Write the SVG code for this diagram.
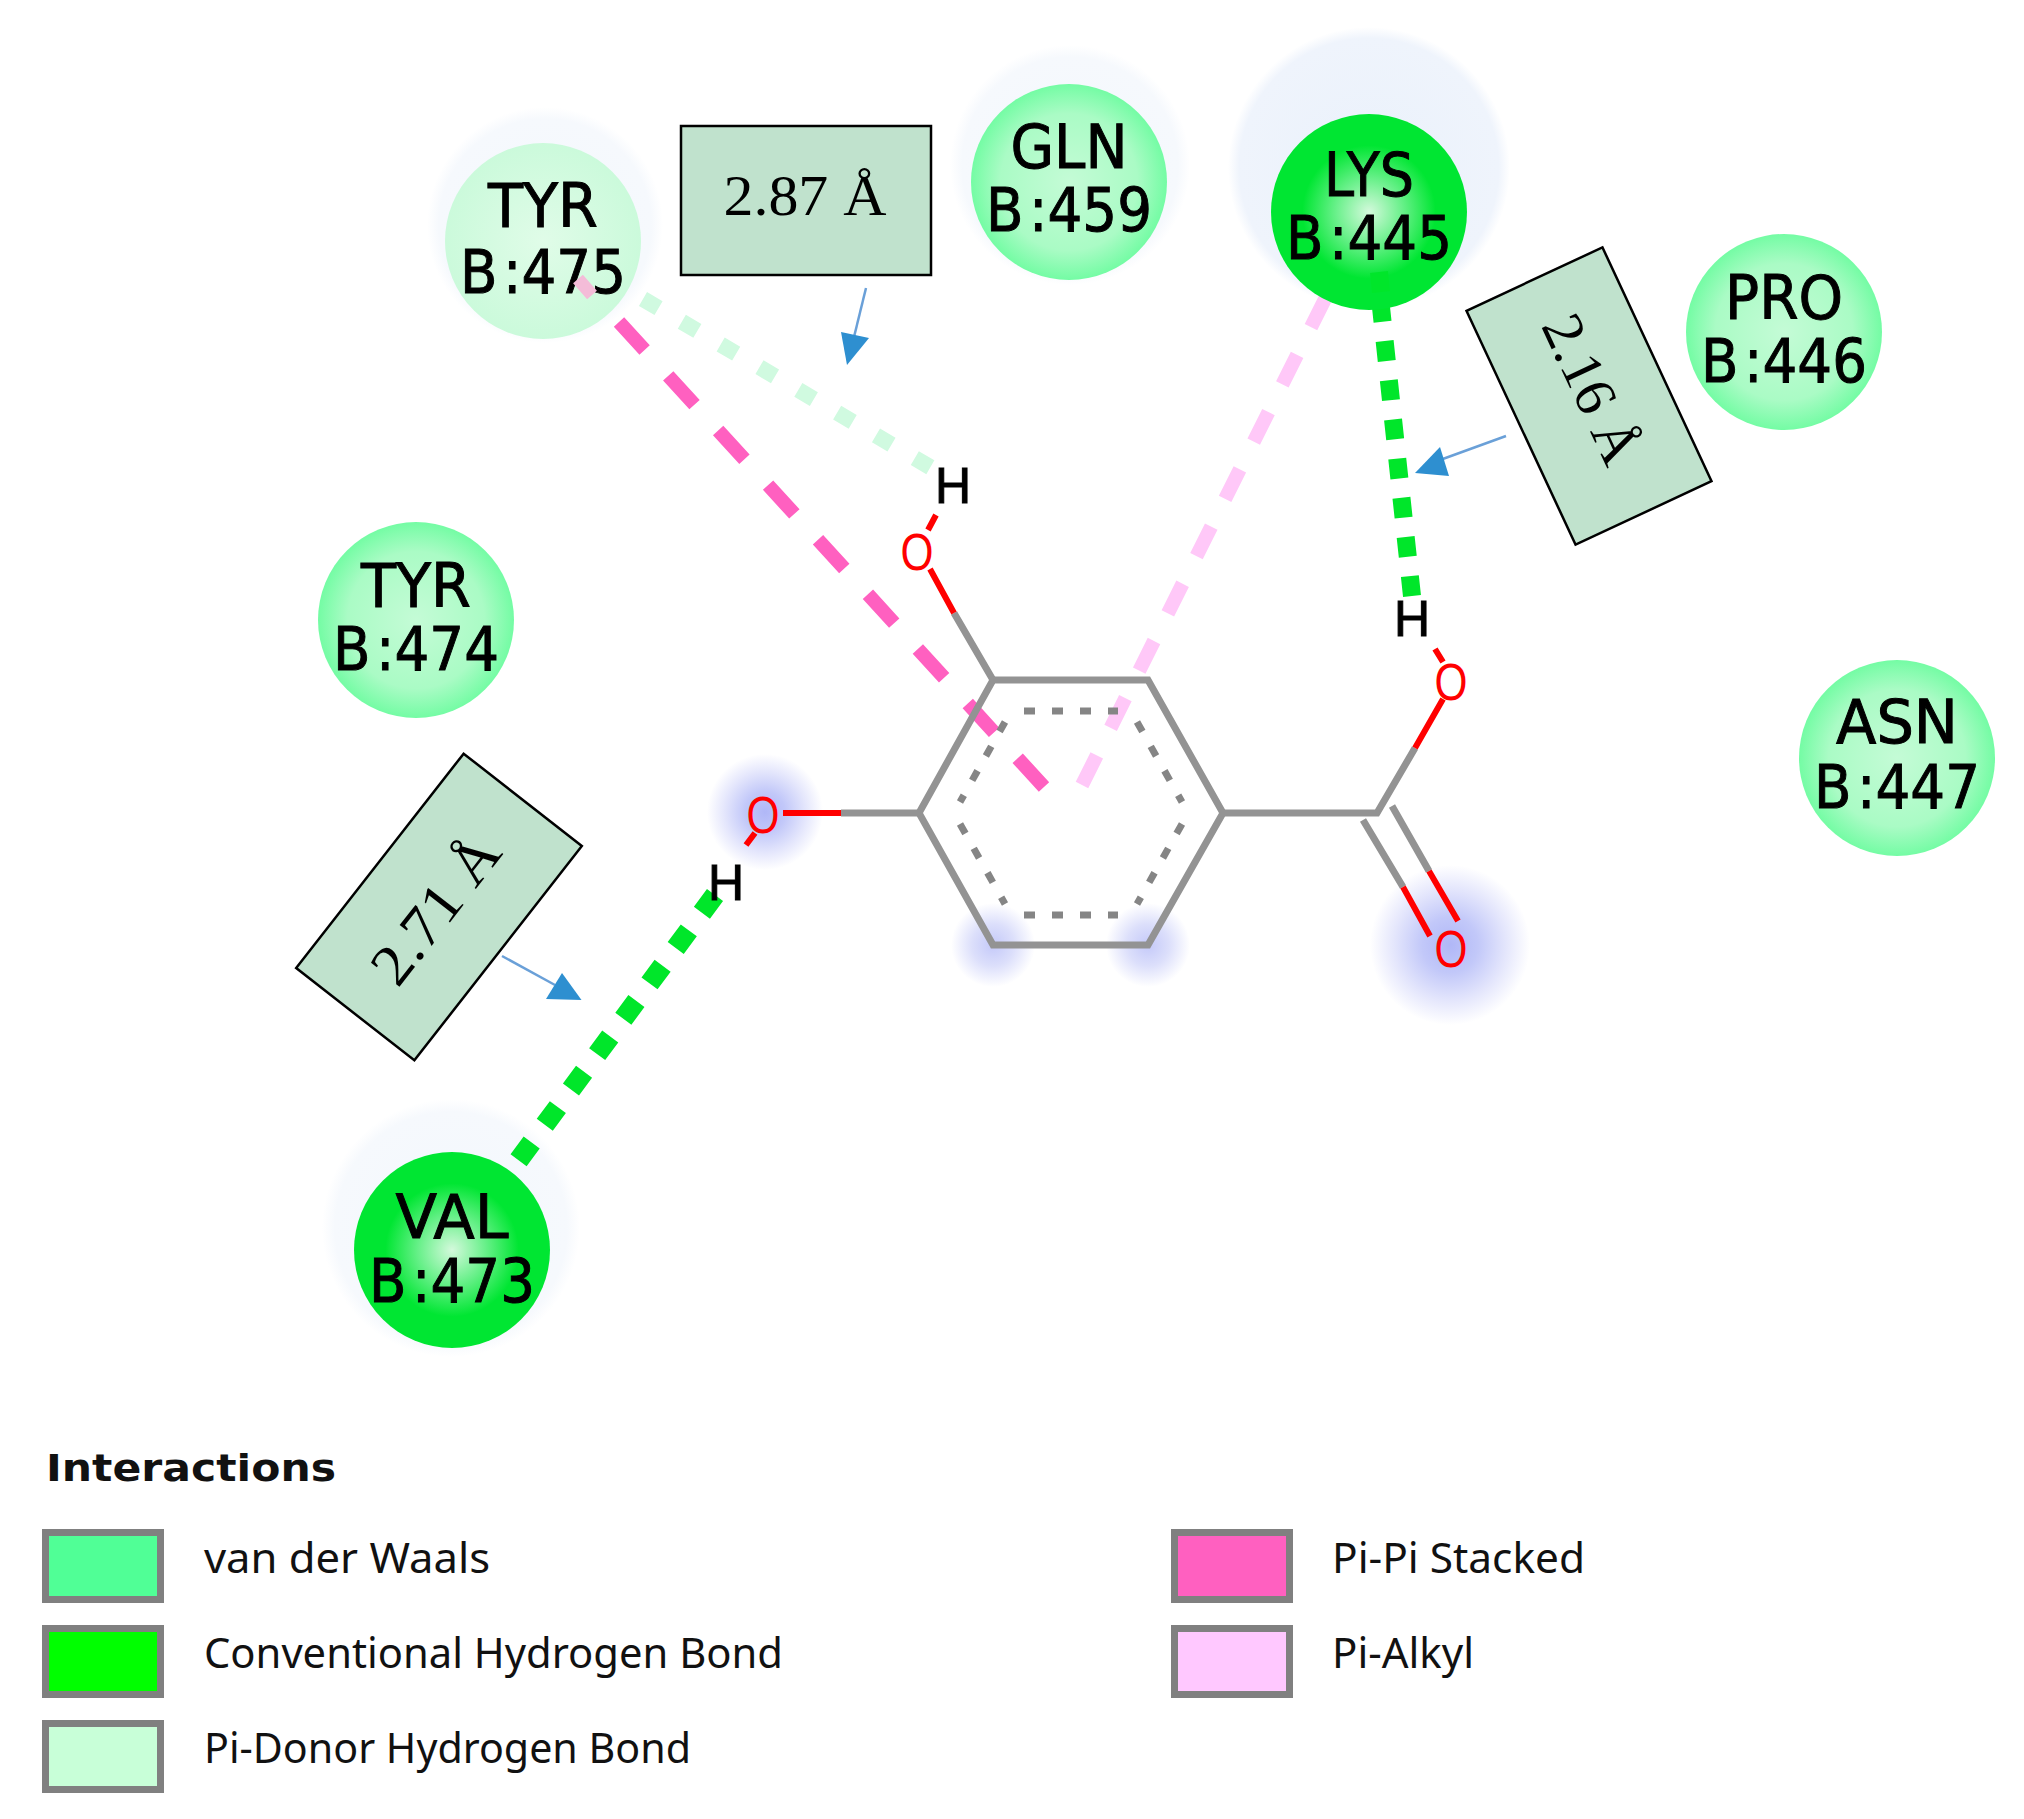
<svg xmlns="http://www.w3.org/2000/svg" width="2024" height="1819" viewBox="0 0 2024 1819">
<style>
.res{font-family:"DejaVu Sans","Liberation Sans",sans-serif;font-size:60px;fill:#000;stroke:#000;stroke-width:1;text-anchor:middle}
.dist{font-family:"Liberation Serif","Times New Roman",serif;font-size:58px;fill:#000;text-anchor:middle}
.box{fill:#c0e2cd;stroke:#000;stroke-width:2.500}
.atomH{font-family:"Liberation Sans",sans-serif;font-size:50px;fill:#000;text-anchor:middle;stroke:#000;stroke-width:1}
.atomO{font-family:"Liberation Sans",sans-serif;font-size:52px;fill:#f00;text-anchor:middle}
.bond{fill:none;stroke:#939393;stroke-width:7}
.red{fill:none;stroke:#f00;stroke-width:6}
.arom{fill:none;stroke:#858585;stroke-width:7;stroke-dasharray:11 17}
.lbl{font-family:"Noto Sans",sans-serif;font-size:42px;fill:#111}
.sw{stroke:#808080;stroke-width:7}
.arr{fill:none;stroke:#6aa0d8;stroke-width:2.500}
.head{fill:#2e8fd0}
</style>
<defs>
<radialGradient id="gv"><stop offset="0" stop-color="#c4fbd6"/><stop offset="0.7" stop-color="#aafbc5"/><stop offset="1" stop-color="#74fca4"/></radialGradient>
<radialGradient id="gc"><stop offset="0" stop-color="#d4f9dc"/><stop offset="0.35" stop-color="#66f088"/><stop offset="0.68" stop-color="#00e632"/><stop offset="1" stop-color="#00e632"/></radialGradient>
<radialGradient id="gp"><stop offset="0" stop-color="#e0fce8"/><stop offset="1" stop-color="#cbfadb"/></radialGradient>
<radialGradient id="ghb"><stop offset="0" stop-color="#eaf1fb"/><stop offset="0.92" stop-color="#eff4fc"/><stop offset="1" stop-color="#ffffff"/></radialGradient>
<radialGradient id="ghalo"><stop offset="0" stop-color="#f3f7fd"/><stop offset="0.9" stop-color="#f6f9fd"/><stop offset="1" stop-color="#ffffff"/></radialGradient>
<radialGradient id="gb"><stop offset="0" stop-color="#b0b7f7"/><stop offset="0.35" stop-color="#c2c8f9"/><stop offset="0.7" stop-color="#e4e6fc"/><stop offset="1" stop-color="#ffffff"/></radialGradient>
<radialGradient id="gr"><stop offset="0" stop-color="#c4c9f9"/><stop offset="0.5" stop-color="#dcdffb"/><stop offset="1" stop-color="#ffffff"/></radialGradient>
</defs>
<rect width="2024" height="1819" fill="#fff"/>
<g id="glows">
<circle cx="765" cy="812" r="58" fill="url(#gb)"/>
<circle cx="1450" cy="945" r="80" fill="url(#gb)"/>
<circle cx="993" cy="945" r="42" fill="url(#gr)"/>
<circle cx="1148" cy="945" r="42" fill="url(#gr)"/>
</g>
<g id="halos">
<circle cx="545" cy="225" r="118" fill="url(#ghalo)"/>
<circle cx="1070" cy="165" r="120" fill="url(#ghalo)"/>
<circle cx="1369" cy="168" r="141" fill="url(#ghb)"/>
<circle cx="451" cy="1228" r="129" fill="url(#ghalo)"/>
</g>
<g id="connectors" fill="none">
<path d="M1082 785L1330 289" stroke="#ffc8f8" stroke-width="14" stroke-dasharray="33 31"/>
<path d="M1044 787L619 322" stroke="#ff60c0" stroke-width="14" stroke-dasharray="39 35"/>
<path d="M643 299L935 470" stroke="#d0fae0" stroke-width="16" stroke-dasharray="18 27"/>
<path d="M1412 596L1377 270" stroke="#00e62a" stroke-width="18" stroke-dasharray="20 19.400"/>
<path d="M715 895L515 1165" stroke="#00e62a" stroke-width="20" stroke-dasharray="22 22"/>
</g>
<g id="molecule">
<path class="bond" d="M993 680H1148L1223 813L1148 945H993L919 813Z"/>
<path class="arom" d="M1024 711H1118"/>
<path class="arom" d="M1024 915H1118"/>
<path class="arom" d="M1137 722L1182 802"/>
<path class="arom" d="M1182 824L1137 904"/>
<path class="arom" d="M1005 722L960 802"/>
<path class="arom" d="M960 824L1005 904"/>
<path class="bond" d="M1223 813H1377L1415 748"/>
<path class="bond" d="M1363 820L1403 887M1392 806L1429 871"/>
<path class="bond" d="M919 813H841M993 680L954 613"/>
<path class="red" d="M1415 748L1443 699M1435 649L1443 662M1403 887L1430 936M1429 871L1458 921"/>
<path class="red" d="M841 813H783M755 833L746 845M954 613L930 569M928 530L936 515"/>
<text class="atomH" x="953" y="503">H</text>
<text class="atomO" x="917" y="570" textLength="33" lengthAdjust="spacingAndGlyphs">O</text>
<text class="atomH" x="1412" y="636">H</text>
<text class="atomO" x="1451" y="700" textLength="33" lengthAdjust="spacingAndGlyphs">O</text>
<text class="atomO" x="1451" y="967" textLength="33" lengthAdjust="spacingAndGlyphs">O</text>
<text class="atomO" x="763" y="833" textLength="33" lengthAdjust="spacingAndGlyphs">O</text>
<text class="atomH" x="726" y="900">H</text>
</g>
<g id="TYR475"><circle cx="543" cy="241" r="98" fill="url(#gp)"/>
<text class="res" x="543" y="227" textLength="110" lengthAdjust="spacingAndGlyphs">TYR</text>
<text class="res" x="543" y="293" textLength="166" lengthAdjust="spacingAndGlyphs">B<tspan dx="6">:475</tspan></text></g>
<path d="M578 279L592 295" stroke="#f4bcd8" stroke-width="13" fill="none"/>
<g id="GLN459"><circle cx="1069" cy="182" r="98" fill="url(#gv)"/>
<text class="res" x="1069" y="168" textLength="117" lengthAdjust="spacingAndGlyphs">GLN</text>
<text class="res" x="1069" y="231" textLength="166" lengthAdjust="spacingAndGlyphs">B<tspan dx="6">:459</tspan></text></g>
<g id="LYS445"><circle cx="1369" cy="212" r="98" fill="url(#gc)"/>
<text class="res" x="1369" y="196" textLength="90" lengthAdjust="spacingAndGlyphs">LYS</text>
<text class="res" x="1369" y="259" textLength="166" lengthAdjust="spacingAndGlyphs">B<tspan dx="6">:445</tspan></text></g>
<path d="M1379 272L1381 292" stroke="#00e62a" stroke-width="18" fill="none"/>
<g id="PRO446"><circle cx="1784" cy="332" r="98" fill="url(#gv)"/>
<text class="res" x="1784" y="319" textLength="118" lengthAdjust="spacingAndGlyphs">PRO</text>
<text class="res" x="1784" y="382" textLength="166" lengthAdjust="spacingAndGlyphs">B<tspan dx="6">:446</tspan></text></g>
<g id="TYR474"><circle cx="416" cy="620" r="98" fill="url(#gv)"/>
<text class="res" x="416" y="607" textLength="110" lengthAdjust="spacingAndGlyphs">TYR</text>
<text class="res" x="416" y="670" textLength="166" lengthAdjust="spacingAndGlyphs">B<tspan dx="6">:474</tspan></text></g>
<g id="ASN447"><circle cx="1897" cy="758" r="98" fill="url(#gv)"/>
<text class="res" x="1897" y="743" textLength="122" lengthAdjust="spacingAndGlyphs">ASN</text>
<text class="res" x="1897" y="808" textLength="166" lengthAdjust="spacingAndGlyphs">B<tspan dx="6">:447</tspan></text></g>
<g id="VAL473"><circle cx="452" cy="1250" r="98" fill="url(#gc)"/>
<text class="res" x="452" y="1238" textLength="113" lengthAdjust="spacingAndGlyphs">VAL</text>
<text class="res" x="452" y="1302" textLength="166" lengthAdjust="spacingAndGlyphs">B<tspan dx="6">:473</tspan></text></g>
<g id="d287"><rect class="box" x="681" y="126" width="250" height="149"/>
<text class="dist" x="805" y="215" textLength="163" lengthAdjust="spacingAndGlyphs">2.87 Å</text></g>
<g id="d216" transform="translate(1589 396) rotate(65)"><rect class="box" x="-129" y="-75" width="258" height="150"/>
<text class="dist" x="-5" y="14">2.16 Å</text></g>
<g id="d271" transform="translate(439 907) rotate(-52)"><rect class="box" x="-136" y="-75" width="272" height="150"/>
<text class="dist" x="-4" y="18" textLength="172" lengthAdjust="spacingAndGlyphs">2.71 Å</text></g>
<g id="arrows">
<path class="arr" d="M866 288L854 337"/><path class="head" d="M847 365L841 332L869 338Z"/>
<path class="arr" d="M1506 436L1440 460"/><path class="head" d="M1415 473L1440 447L1449 476Z"/>
<path class="arr" d="M502 956L555 985"/><path class="head" d="M581.500 1000L562 973L546 999Z"/>
</g>
<g id="legend">
<text x="46" y="1481" font-family="'DejaVu Sans',sans-serif" font-weight="700" font-size="38" fill="#111" textLength="290" lengthAdjust="spacingAndGlyphs">Interactions</text>
<rect class="sw" x="45.500" y="1532.500" width="115" height="67" fill="#50ff96"/>
<rect class="sw" x="45.500" y="1628.500" width="115" height="66" fill="#00ff00"/>
<rect class="sw" x="45.500" y="1723.500" width="115" height="66" fill="#c8ffd8"/>
<rect class="sw" x="1174.500" y="1532.500" width="115" height="67" fill="#ff60c0"/>
<rect class="sw" x="1174.500" y="1628.500" width="115" height="66" fill="#ffc8ff"/>
<text class="lbl" x="204" y="1573" textLength="286" lengthAdjust="spacingAndGlyphs">van der Waals</text>
<text class="lbl" x="204" y="1668" textLength="579" lengthAdjust="spacingAndGlyphs">Conventional Hydrogen Bond</text>
<text class="lbl" x="204" y="1763" textLength="487" lengthAdjust="spacingAndGlyphs">Pi-Donor Hydrogen Bond</text>
<text class="lbl" x="1332" y="1573" textLength="253" lengthAdjust="spacingAndGlyphs">Pi-Pi Stacked</text>
<text class="lbl" x="1332" y="1668" textLength="142" lengthAdjust="spacingAndGlyphs">Pi-Alkyl</text>
</g>
</svg>
